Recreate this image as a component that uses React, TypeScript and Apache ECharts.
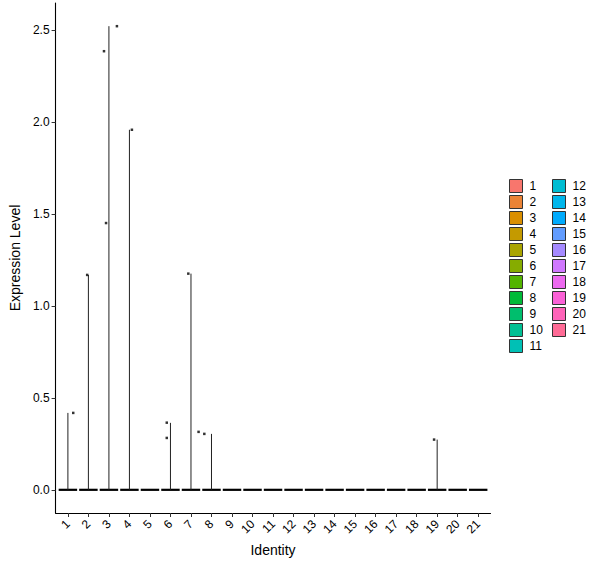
import * as echarts from "echarts";
import { useEffect, useRef } from "react";

// identity classes
const categories = [
  "1", "2", "3", "4", "5", "6", "7", "8", "9", "10", "11",
  "12", "13", "14", "15", "16", "17", "18", "19", "20", "21",
];
// top of each violin (max expression per identity)
const violinMax = [
  0.418, 1.168, 2.52, 1.957, 0, 0.364, 1.175, 0.304, 0, 0, 0,
  0, 0, 0, 0, 0, 0, 0, 0.273, 0, 0,
];
// jittered non-zero cells: [identity position, expression]
const cellPoints: [number, number][] = [
  [1.26, 0.418],
  [1.94, 1.168],
  [2.76, 2.384],
  [2.86, 1.45],
  [3.39, 2.52],
  [4.12, 1.957],
  [5.82, 0.365],
  [5.82, 0.282],
  [6.87, 1.175],
  [7.37, 0.315],
  [7.65, 0.304],
  [18.85, 0.273],
];
const yTicks = [0, 0.5, 1, 1.5, 2, 2.5];

// ggplot2 hue palette (hcl, c = 100, l = 65)
function hcl(h: number, c: number, l: number) {
  const Xn = 95.047, Yn = 100, Zn = 108.883;
  const un = (4 * Xn) / (Xn + 15 * Yn + 3 * Zn);
  const vn = (9 * Yn) / (Xn + 15 * Yn + 3 * Zn);
  const rad = (h * Math.PI) / 180;
  const u = c * Math.cos(rad), v = c * Math.sin(rad);
  const Y = l > 8 ? Yn * Math.pow((l + 16) / 116, 3) : (Yn * l) / 903.3;
  const up = u / (13 * l) + un, vp = v / (13 * l) + vn;
  const X = (9 * Y * up) / (4 * vp);
  const Z = -X / 3 - 5 * Y + (3 * Y) / vp;
  const x = X / 100, y = Y / 100, z = Z / 100;
  const lin = [
    3.240479 * x - 1.53715 * y - 0.498535 * z,
    -0.969256 * x + 1.875992 * y + 0.041556 * z,
    0.055648 * x - 0.204043 * y + 1.057311 * z,
  ];
  return (
    "#" +
    lin
      .map((t) => {
        let g = t <= 0.0031308 ? 12.92 * t : 1.055 * Math.pow(t, 1 / 2.4) - 0.055;
        g = Math.min(1, Math.max(0, g));
        return Math.round(g * 255).toString(16).padStart(2, "0");
      })
      .join("")
  );
}
const palette = categories.map((_, i) => hcl(15 + (i * 360) / categories.length, 100, 65));

const FONT = "Liberation Sans, Arial, sans-serif";

const App = () => {
  const chartRef = useRef<HTMLDivElement>(null);

  useEffect(() => {
    const chart = echarts.init(chartRef.current, null, { renderer: "svg" });

    const violinSeries = categories.map((name, i) => ({
      name,
      type: "custom" as const,
      color: palette[i],
      itemStyle: { color: palette[i] },
      data: [[i + 1, violinMax[i]]],
      encode: { x: 0, y: 1 },
      renderItem: (_params: any, api: any) => {
        const pos = api.value(0);
        const top = api.value(1);
        const left = api.coord([pos - 0.45, 0]);
        const right = api.coord([pos + 0.45, 0]);
        const base = api.coord([pos, 0]);
        const peak = api.coord([pos, top]);
        const children: any[] = [
          {
            type: "line",
            shape: { x1: left[0], y1: left[1], x2: right[0], y2: right[1] },
            style: { stroke: "#000", lineWidth: 2.2 },
          },
        ];
        if (top > 0) {
          children.push({
            type: "line",
            shape: { x1: base[0], y1: base[1], x2: peak[0], y2: peak[1] },
            style: { stroke: "#222", lineWidth: 1 },
          });
        }
        return { type: "group", children };
      },
    }));

    chart.setOption({
      animation: false,
      grid: { left: 53.3, right: 109.5, top: 3, bottom: 55, containLabel: false },
      xAxis: {
        type: "value",
        min: 0.4,
        max: 21.6,
        name: "Identity",
        nameLocation: "middle",
        nameGap: 30,
        nameTextStyle: { fontFamily: FONT, fontSize: 14, color: "#000" },
        splitLine: { show: false },
        axisLine: { onZero: false, lineStyle: { color: "#000", width: 1.1 } },
        axisTick: {
          customValues: categories.map((_, i) => i + 1),
          length: 4,
          lineStyle: { color: "#333" },
        },
        axisLabel: {
          customValues: categories.map((_, i) => i + 1),
          formatter: (v: number) => categories[Math.round(v) - 1] ?? "",
          rotate: 45,
          margin: 9,
          fontFamily: FONT,
          fontSize: 12,
          color: "#000",
        },
      },
      yAxis: {
        type: "value",
        min: -0.126,
        max: 2.646,
        name: "Expression Level",
        nameLocation: "middle",
        nameGap: 27,
        nameTextStyle: { fontFamily: FONT, fontSize: 14, color: "#000" },
        splitLine: { show: false },
        axisLine: { show: true, onZero: false, lineStyle: { color: "#000", width: 1.1 } },
        axisTick: { show: true, customValues: yTicks, length: 4, lineStyle: { color: "#333" } },
        axisLabel: {
          customValues: yTicks,
          formatter: (v: number) => v.toFixed(1),
          margin: 6,
          fontFamily: FONT,
          fontSize: 12,
          color: "#000",
        },
      },
      legend: [
        {
          data: categories.slice(0, 11),
          orient: "vertical",
          left: 509,
          top: 179,
          icon: "rect",
          itemWidth: 13,
          itemHeight: 13,
          itemGap: 2,
          padding: 0,
          selectedMode: false,
          itemStyle: { borderColor: "#333", borderWidth: 1 },
          textStyle: { fontFamily: FONT, fontSize: 12, color: "#000", padding: [0, 0, 0, 2] },
        },
        {
          data: categories.slice(11),
          orient: "vertical",
          left: 552,
          top: 179,
          icon: "rect",
          itemWidth: 13,
          itemHeight: 13,
          itemGap: 2,
          padding: 0,
          selectedMode: false,
          itemStyle: { borderColor: "#333", borderWidth: 1 },
          textStyle: { fontFamily: FONT, fontSize: 12, color: "#000", padding: [0, 0, 0, 2] },
        },
      ],
      series: [
        ...violinSeries,
        {
          type: "scatter",
          data: cellPoints,
          symbol: "rect",
          symbolSize: 2.5,
          itemStyle: { color: "#000" },
          z: 5,
        },
      ],
    });

    return () => {
      chart.dispose();
    };
  }, []);

  return (
    <div
      ref={chartRef}
      style={{ position: "fixed", left: 0, top: 0, width: "600px", height: "568px", background: "#fff" }}
    ></div>
  );
};

export default App;
